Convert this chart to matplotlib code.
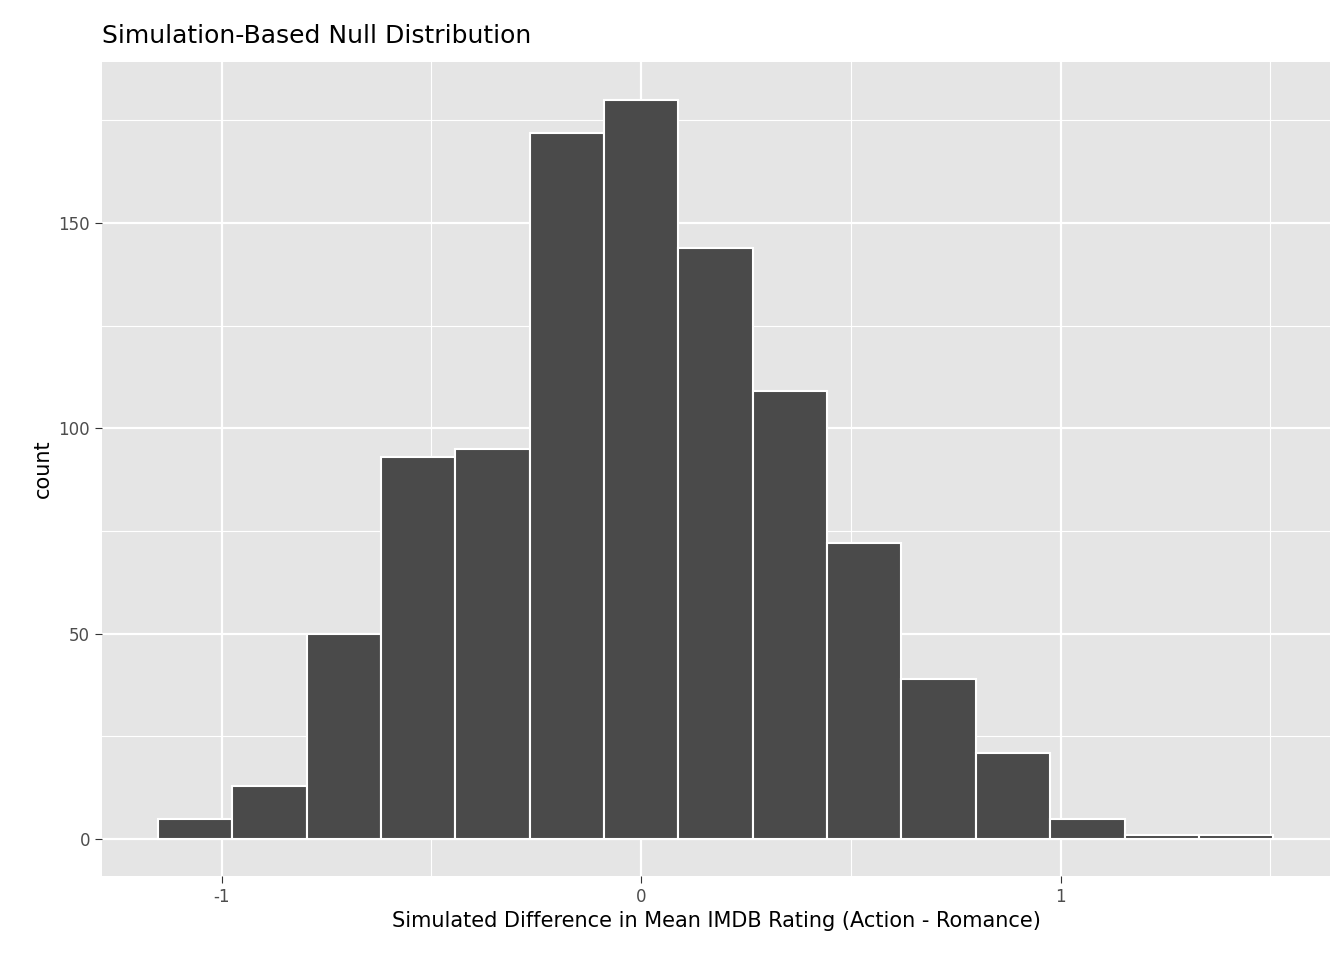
import numpy as np
import matplotlib.pyplot as plt

counts = [5, 13, 50, 93, 95, 172, 180, 144, 109, 72, 39, 21, 5, 1, 1]
left_edge = -1.1514
bin_width = 0.1772
edges = left_edge + bin_width * np.arange(len(counts) + 1)

fig = plt.figure(figsize=(13.44, 9.6), dpi=100)
ax = fig.add_axes([102 / 1344, 1 - 876 / 960, (1330 - 102) / 1344, (876 - 62) / 960])
ax.set_facecolor("#E5E5E5")
for s in ax.spines.values():
    s.set_visible(False)

ax.set_xlim(-1.285, 1.642)
ax.set_ylim(-9.0, 189.2)
ax.set_xticks([-1, 0, 1])
ax.set_xticklabels(["-1", "0", "1"])
ax.set_yticks([0, 50, 100, 150])
ax.set_xticks([-0.5, 0.5, 1.5], minor=True)
ax.set_yticks([25, 75, 125, 175], minor=True)
ax.grid(which="major", color="white", lw=1.6)
ax.grid(which="minor", color="white", lw=0.8)
ax.set_axisbelow(True)
ax.tick_params(which="major", length=5, color="#333333", labelsize=12, labelcolor="#4D4D4D")
ax.tick_params(which="minor", length=0)

ax.bar(edges[:-1], counts, width=bin_width, align="edge",
       color="#4A4A4A", edgecolor="white", linewidth=1.5)

ax.set_xlabel("Simulated Difference in Mean IMDB Rating (Action - Romance)", fontsize=15)
ax.set_ylabel("count", fontsize=15)
ax.set_title("Simulation-Based Null Distribution", fontsize=18, loc="left", pad=14)

fig.savefig("out.png", dpi=100)
